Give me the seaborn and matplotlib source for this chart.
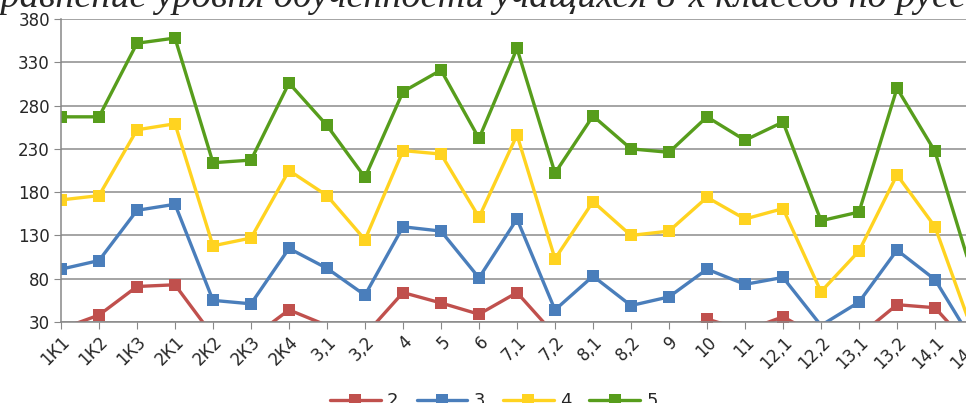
import numpy as np
import pandas as pd
import matplotlib
matplotlib.use("Agg")
import matplotlib.pyplot as plt
import seaborn as sns

# Data
classes = ["1К1", "1К2", "1К3", "2К1", "2К2", "2К3", "2К4", "3,1", "3,2", "4", "5", "6",
           "7,1", "7,2", "8,1", "8,2", "9", "10", "11", "12,1", "12,2", "13,1", "13,2",
           "14,1", "14,2"]
grade2 = [22, 38, 71, 73, 14, 11, 44, 26, 15, 64, 52, 39, 64, 15, 18, 14, 6, 33.5, 20, 36,
          12, 14, 50, 46.5, -2]
grade3 = [91, 101, 159, 166, 55, 51, 115, 92, 61, 140, 135, 81, 149, 44, 83, 49, 59, 91,
          73.5, 81.5, 26, 53, 113, 79, 7]
grade4 = [171, 176, 252, 259, 118, 127, 205, 176, 125, 228, 224, 151, 246, 103, 169, 130,
          135, 174, 149, 161, 65, 112, 200, 140, 18]
grade5 = [267, 267, 352, 358, 214, 217, 306, 257, 197, 296, 321, 242, 346, 202, 268, 230,
          226, 267, 240, 261, 147, 157, 300, 227, 83]

series = {"2": grade2, "3": grade3, "4": grade4, "5": grade5}
colors = {"2": "#C0504D", "3": "#4A7EBB", "4": "#FFD320", "5": "#579D1C"}

rows = []
for name, vals in series.items():
    for i, v in enumerate(vals):
        rows.append({"class": i, "value": v, "grade": name})
df = pd.DataFrame(rows)

sns.set_style("white")
plt.rcParams["font.family"] = ["DejaVu Sans"]

fig = plt.figure(figsize=(9.66, 4.03), dpi=100)
# axes run past the right edge of the figure, as in the reference
ax = fig.add_axes([61 / 966, 1 - 322 / 403, 950 / 966, 303 / 403])

sns.lineplot(data=df, x="class", y="value", hue="grade", palette=colors,
             marker="s", markersize=9, markeredgewidth=0, linewidth=2.4,
             sort=False, ax=ax, legend=True)

ymin, ymax = 30, 380
# like Excel: no marker for points below the axis minimum
for line in ax.lines:
    y = np.asarray(line.get_ydata())
    if len(y) == len(classes):
        line.set_markevery([i for i, v in enumerate(y) if v >= ymin])

ax.set_ylim(ymin, ymax)
ax.set_xlim(0, 25)
ax.set_yticks(range(30, 381, 50))
ax.set_xticks(range(len(classes)))
ax.set_xticklabels(classes, rotation=45, ha="right", rotation_mode="anchor", fontsize=12)
ax.tick_params(axis="y", labelsize=12, length=5, color="#888888", left=True, pad=3)
ax.tick_params(axis="x", length=5, color="#888888", bottom=True, pad=3)
ax.grid(axis="y", color="#8c8c8c", linewidth=1.1)
ax.set_axisbelow(True)
ax.set_xlabel("")
ax.set_ylabel("")
for side in ["top", "right"]:
    ax.spines[side].set_visible(False)
for side in ["left", "bottom"]:
    ax.spines[side].set_color("#888888")
    ax.spines[side].set_linewidth(1.1)

handles, labels = ax.get_legend_handles_labels()
ax.legend(handles, labels, loc="center", bbox_to_anchor=(494 / 966, 2 / 403),
          bbox_transform=fig.transFigure, ncol=4, frameon=False, fontsize=13,
          handlelength=2.8, columnspacing=1.0, handletextpad=0.35)

fig.text(-25 / 966, 1 - 7 / 403,
         "Сравнение уровня обученности учащихся 8-х классов по русскому языку",
         ha="left", va="baseline", fontsize=27.5, fontstyle="italic",
         family=["Liberation Serif", "DejaVu Serif"])

fig.savefig("out.png", dpi=100)
